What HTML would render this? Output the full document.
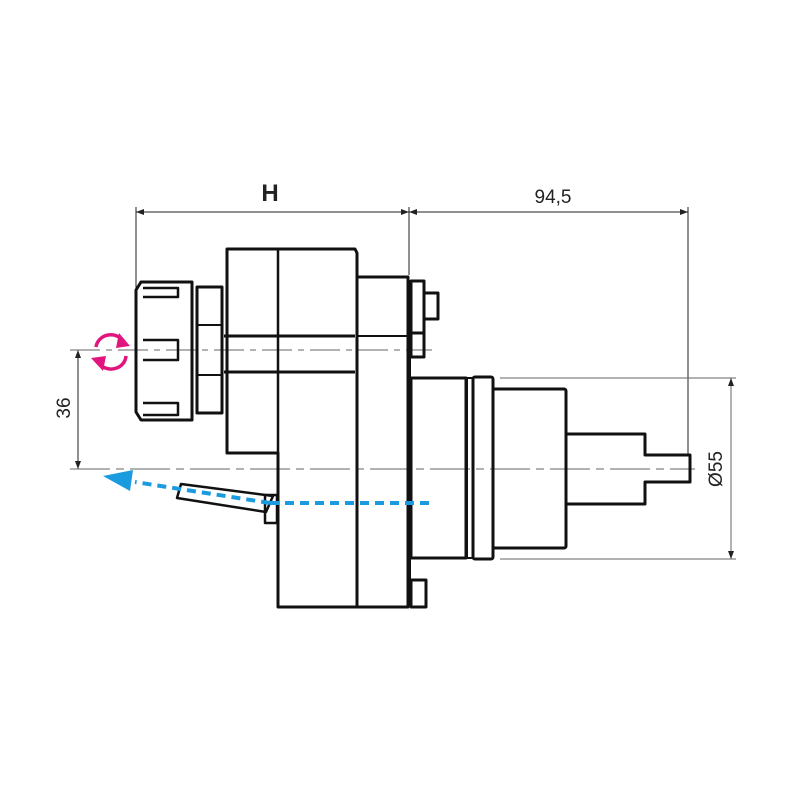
<!DOCTYPE html>
<html><head><style>body{margin:0;background:#fff}svg{display:block}</style></head><body>
<svg width="800" height="800" viewBox="0 0 800 800" xmlns="http://www.w3.org/2000/svg">
<g fill="none" stroke="#222" stroke-width="1">
<line x1="136" y1="207" x2="136" y2="290"/>
<line x1="409" y1="207" x2="409" y2="275"/>
<line x1="688" y1="207" x2="688" y2="455"/>
<line x1="136" y1="212" x2="688" y2="212"/>
<line x1="500" y1="378" x2="736" y2="378" stroke="#666"/>
<line x1="500" y1="559" x2="736" y2="559" stroke="#666"/>
<line x1="731" y1="378" x2="731" y2="559" stroke="#666"/>
<line x1="78" y1="350" x2="78" y2="469"/>
<line x1="70" y1="350" x2="432" y2="350" stroke="#666" stroke-dasharray="30,6,6,6"/>
<line x1="70" y1="469" x2="695" y2="469" stroke="#666" stroke-dasharray="40,6,8,6"/>
</g>
<g fill="#222">
<polygon points="136,212 144,209 144,215"/><polygon points="409,212 401,209 401,215"/>
<polygon points="409,212 417,209 417,215"/><polygon points="688,212 680,209 680,215"/>
<polygon points="731,378 728,386 734,386"/><polygon points="731,559 728,551 734,551"/>
<polygon points="78,350 75,358 81,358"/><polygon points="78,469 75,461 81,461"/>
</g>
<g fill="none" stroke="#111" stroke-width="3" stroke-linejoin="round">
<path d="M141,282 H192 V420 H141 L136,412 V290 Z"/>
<path d="M143,288 H178 V297 H143 M143,340 H178 V360 H143 M143,403 H178 V415 H143" stroke-width="2.5"/>
<rect x="197" y="287" width="25" height="126"/>
<line x1="197" y1="325" x2="222" y2="325" stroke-width="2"/><line x1="197" y1="375" x2="222" y2="375" stroke-width="2"/>
<path d="M227,249 H355 L357,253 V607 H278 V453 H227 Z"/>
<line x1="278" y1="249" x2="278" y2="453" stroke-width="2.5"/>
<line x1="224" y1="336" x2="355" y2="336"/><line x1="224" y1="372" x2="355" y2="372"/>
<path d="M357,277 H408 V607 H357"/>
<line x1="357" y1="336" x2="408" y2="336" stroke-width="2"/>
<line x1="409" y1="280" x2="409" y2="607" stroke-width="4"/>
<rect x="411" y="281" width="13" height="76"/><line x1="411" y1="333" x2="424" y2="333"/>
<rect x="424" y="293" width="14" height="26"/>
<rect x="411" y="580" width="15" height="27"/>
<rect x="411" y="378" width="55" height="180"/>
<rect x="467" y="378" width="6" height="180" stroke-width="2"/>
<rect x="473" y="377" width="20" height="182" rx="2"/>
<rect x="493" y="389" width="73" height="159" rx="2"/>
<path d="M566,434 H645 V455 H690 V482 H645 V504 H566"/>
<path d="M181,484 L273,496 L266,512 L177,498 Z" stroke-width="2.5"/>
<rect x="265" y="495" width="12" height="28" stroke-width="2.5"/>
</g>
<line x1="270" y1="503" x2="432" y2="503" stroke="#1a9be0" stroke-width="4" stroke-dasharray="9,6"/>
<line x1="270" y1="503" x2="135" y2="482" stroke="#1a9be0" stroke-width="4" stroke-dasharray="9,6"/>
<polygon points="103,476 133,470 130,491" fill="#1a9be0"/>
<g fill="none" stroke="#e0157d" stroke-width="3.5">
<path d="M96,347 A15,14 0 0 1 124,342"/><path d="M126,356 A15,14 0 0 1 98,362"/>
</g>
<g fill="#e0157d"><polygon points="119,333 130,346 116,348"/><polygon points="103,371 91,358 106,356"/></g>
<g font-family="Liberation Sans, sans-serif" fill="#222">
<text x="270" y="201" font-size="24" font-weight="bold" text-anchor="middle">H</text>
<text x="553" y="203" font-size="19" text-anchor="middle">94,5</text>
<text transform="translate(70,408) rotate(-90)" font-size="19" text-anchor="middle">36</text>
<text transform="translate(722,469) rotate(-90)" font-size="19" text-anchor="middle">Ø55</text>
</g>
</svg>
</body></html>
